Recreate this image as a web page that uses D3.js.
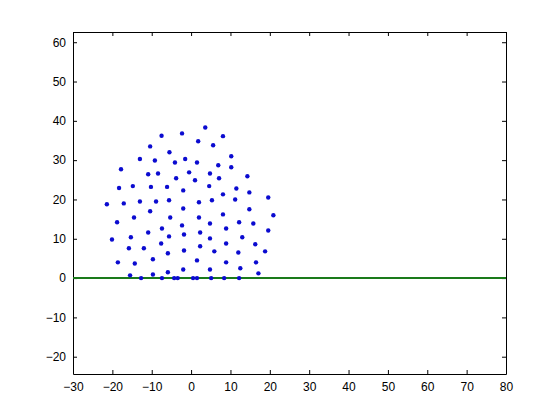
<!DOCTYPE html>
<html>
<head>
<meta charset="utf-8">
<script src="https://cdn.jsdelivr.net/npm/d3@7"></script>
<style>
  body { margin: 0; background: #fff; }
  .axis text { font-family: "Liberation Sans", Arial, sans-serif; font-size: 12px; fill: #000; }
  .axis path, .axis line { stroke: #000; }
</style>
</head>
<body>
<div id="chart"></div>
<script>
// scatter points (x, y)
const xs = [-7.5, -2.3, -10.4, -5.5, -13.0, -9.2, -4.1, -17.8, -10.9, -8.4,
            -3.8, -18.3, -14.8, -10.2, -6.1, -2.0, -21.4, -17.1, -13.0, -8.9,
            -5.6, 3.6, 8.1, 1.8, 5.6, 10.2, -1.5, 1.5, 6.9, 10.2,
            -0.5, 4.8, 14.3, 1.0, 7.1, 4.6, 11.5, 14.8, 8.1, 5.3,
            11.2, 2.0, 19.6, -2.0, 14.8, 2.0, 8.1, 20.9, 4.8, 12.2,
            15.8, -2.3, 8.9, 19.6, -1.8, 2.3, 4.8, 13.0, 8.9, 16.3,
            2.3, -1.8, 5.9, 12.0, 18.8, 1.5, 8.9, 16.5, -2.0, 4.8,
            12.5, 17.1, -10.4, -14.5, -5.3, -18.8, -7.4, -10.9, -5.6, -20.1,
            -15.3, -15.8, -12.0, -7.6, -5.9, -18.6, -14.3, -9.7, -5.9, -15.5,
            -9.7, -12.7, -7.4, -4.3, -3.4, 0.5, 1.5, 5.1, 8.4, 12.2];
const ys = [36.2, 36.8, 33.5, 32.0, 30.3, 29.9, 29.4, 27.7, 26.4, 26.6,
            25.4, 22.9, 23.4, 23.2, 23.2, 22.3, 18.8, 19.0, 19.5, 19.5,
            19.8, 38.3, 36.1, 34.8, 33.8, 31.0, 30.3, 29.4, 28.7, 28.2,
            26.9, 26.6, 25.9, 24.9, 25.4, 23.4, 22.8, 21.8, 21.3, 19.8,
            20.0, 19.3, 20.5, 17.7, 17.5, 15.4, 16.2, 16.0, 13.9, 14.2,
            13.9, 13.4, 12.6, 12.1, 11.1, 11.6, 10.1, 10.4, 8.8, 8.6,
            8.1, 7.0, 6.8, 6.5, 6.8, 4.5, 4.0, 4.0, 2.2, 2.2,
            2.5, 1.2, 17.0, 15.4, 15.4, 14.2, 12.6, 11.6, 10.6, 9.8,
            10.4, 7.6, 7.6, 8.8, 6.3, 4.0, 3.7, 4.8, 1.5, 0.7,
            0.9, 0, 0, 0, 0, 0, 0, 0, 0, 0];
const lineY = 0;
const xTicks = [-30, -20, -10, 0, 10, 20, 30, 40, 50, 60, 70, 80];
const yTicks = [-20, -10, 0, 10, 20, 30, 40, 50, 60];

const width = 560, height = 420,
      margin = { top: 32, left: 73, right: 54, bottom: 46 };

const svg = d3.select("#chart").append("svg")
  .attr("width", width).attr("height", height);

const x = d3.scaleLinear().domain([-30, 80]).range([margin.left, width - margin.right]);
const y = d3.scaleLinear().domain([-24.4, 62.6]).range([height - margin.bottom, margin.top]);

svg.append("rect")
  .attr("x", margin.left).attr("y", margin.top)
  .attr("width", x.range()[1] - x.range()[0])
  .attr("height", y.range()[0] - y.range()[1])
  .attr("fill", "#fff");

// axes, ticks pointing inward like the original
const xAxis = d3.axisBottom(x).tickValues(xTicks).tickSizeInner(-4).tickSizeOuter(0).tickPadding(8);
const yAxis = d3.axisLeft(y).tickValues(yTicks).tickSizeInner(-4).tickSizeOuter(0).tickPadding(7);

svg.append("g").attr("class", "axis")
  .attr("transform", `translate(0,${y.range()[0]})`).call(xAxis);
svg.append("g").attr("class", "axis")
  .attr("transform", `translate(${margin.left},0)`).call(yAxis);
svg.append("g").attr("class", "axis")
  .attr("transform", `translate(0,${y.range()[1]})`)
  .call(d3.axisTop(x).tickValues(xTicks).tickSizeInner(-4).tickSizeOuter(0).tickFormat(""));
svg.append("g").attr("class", "axis")
  .attr("transform", `translate(${x.range()[1]},0)`)
  .call(d3.axisRight(y).tickValues(yTicks).tickSizeInner(-4).tickSizeOuter(0).tickFormat(""));

// green zero line
svg.append("line")
  .attr("x1", x(-30)).attr("x2", x(80))
  .attr("y1", y(lineY)).attr("y2", y(lineY))
  .attr("stroke", "#1a7a1a").attr("stroke-width", 2);

svg.append("g").selectAll("circle").data(xs).enter()
  .append("circle")
  .attr("cx", (d, i) => x(d))
  .attr("cy", (d, i) => y(ys[i]))
  .attr("r", 2.2)
  .attr("fill", "#0b0bd0");
</script>
</body>
</html>
